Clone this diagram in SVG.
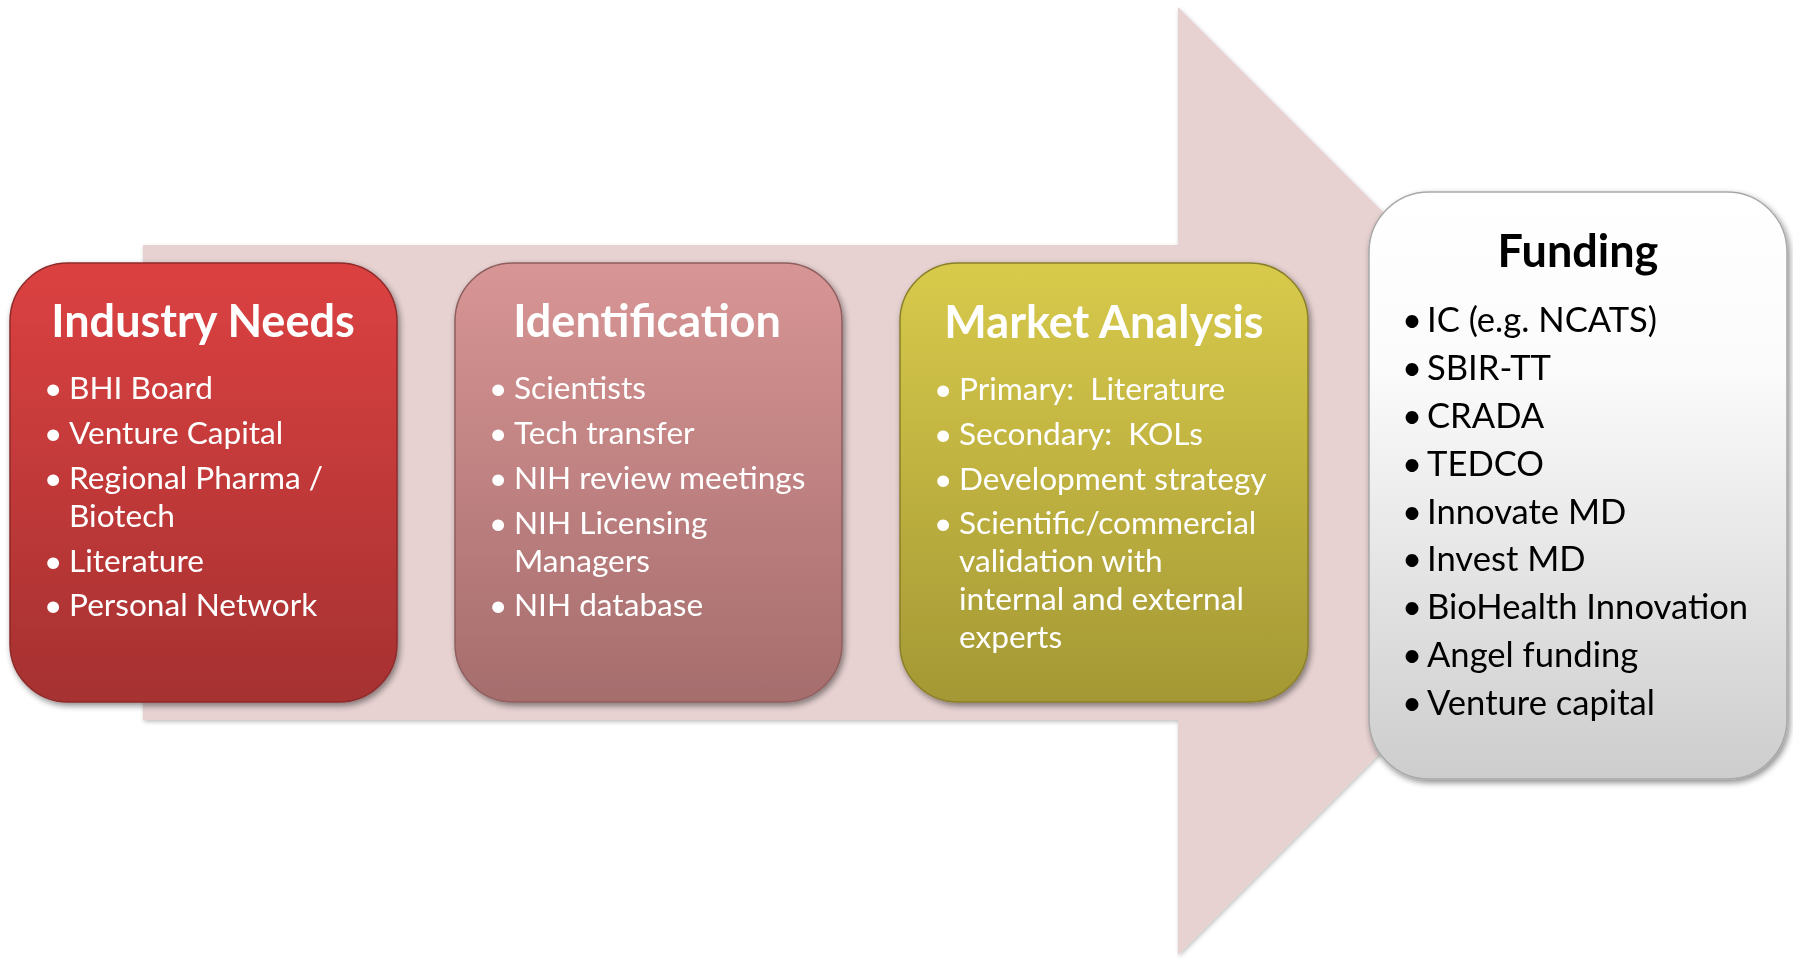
<svg xmlns="http://www.w3.org/2000/svg" width="1793" height="960" viewBox="0 0 1793 960">
<defs>
<style>
.t{font-family:Lato,"Liberation Sans",sans-serif;font-weight:bold;font-size:45px;text-anchor:middle}
.i{font-family:Lato,"Liberation Sans",sans-serif;font-size:31.6px;white-space:pre}
.f{font-family:Lato,"Liberation Sans",sans-serif;font-size:34.6px;fill:#000}
.w{fill:#fff}
.k{fill:#000}
</style>
<filter id="sh" x="-10%" y="-10%" width="120%" height="120%">
<feGaussianBlur in="SourceAlpha" stdDeviation="3"/>
<feOffset dx="2" dy="3" result="b"/>
<feComponentTransfer><feFuncA type="linear" slope="0.45"/></feComponentTransfer>
<feMerge><feMergeNode/><feMergeNode in="SourceGraphic"/></feMerge>
</filter>
<filter id="ash" x="-5%" y="-5%" width="110%" height="110%">
<feGaussianBlur in="SourceAlpha" stdDeviation="2"/>
<feOffset dx="1" dy="2" result="b"/>
<feComponentTransfer><feFuncA type="linear" slope="0.25"/></feComponentTransfer>
<feMerge><feMergeNode/><feMergeNode in="SourceGraphic"/></feMerge>
</filter>
<linearGradient id="gR" x1="0" y1="0" x2="0" y2="1"><stop offset="0" stop-color="#DC4141"/><stop offset="1" stop-color="#A63131"/></linearGradient>
<linearGradient id="gP" x1="0" y1="0" x2="0" y2="1"><stop offset="0" stop-color="#D89595"/><stop offset="1" stop-color="#A66D6D"/></linearGradient>
<linearGradient id="gY" x1="0" y1="0" x2="0" y2="1"><stop offset="0" stop-color="#D8CA4B"/><stop offset="1" stop-color="#A49835"/></linearGradient>
<linearGradient id="gW" x1="0" y1="0" x2="0" y2="1"><stop offset="0" stop-color="#FFFFFF"/><stop offset="0.3" stop-color="#FBFBFB"/><stop offset="1" stop-color="#CDCDCD"/></linearGradient>
</defs>

<g id="arrow" filter="url(#ash)">
<polygon points="143,245 1178,245 1178,7 1652,481 1178,955 1178,720 143,720" fill="#E7D1D1"/>
</g>

<g id="industry-needs" filter="url(#sh)">
<rect x="10" y="263" width="387" height="439" rx="58" fill="url(#gR)" stroke="#8E2A2A" stroke-width="1.5"/>
<text class="t w" x="203" y="337">Industry Needs</text>
<g class="i w">
<text x="44" y="399">•</text><text x="69" y="399">BHI Board</text>
<text x="44" y="444">•</text><text x="69" y="444">Venture Capital</text>
<text x="44" y="489">•</text><text x="69" y="489">Regional Pharma /</text>
<text x="69" y="527">Biotech</text>
<text x="44" y="572">•</text><text x="69" y="572">Literature</text>
<text x="44" y="616">•</text><text x="69" y="616">Personal Network</text>
</g>
</g>

<g id="identification" filter="url(#sh)">
<rect x="455" y="263" width="387" height="439" rx="58" fill="url(#gP)" stroke="#8F5E5E" stroke-width="1.5"/>
<text class="t w" x="647" y="337">Identification</text>
<g class="i w">
<text x="489" y="399">•</text><text x="514" y="399">Scientists</text>
<text x="489" y="444">•</text><text x="514" y="444">Tech transfer</text>
<text x="489" y="489">•</text><text x="514" y="489">NIH review meetings</text>
<text x="489" y="534">•</text><text x="514" y="534">NIH Licensing</text>
<text x="514" y="572">Managers</text>
<text x="489" y="616">•</text><text x="514" y="616">NIH database</text>
</g>
</g>

<g id="market-analysis" filter="url(#sh)">
<rect x="900" y="263" width="408" height="439" rx="58" fill="url(#gY)" stroke="#8A7F2A" stroke-width="1.5"/>
<text class="t w" x="1104" y="338">Market Analysis</text>
<g class="i w">
<text x="934" y="400">•</text><text x="959" y="400" xml:space="preserve">Primary:  Literature</text>
<text x="934" y="445">•</text><text x="959" y="445" xml:space="preserve">Secondary:  KOLs</text>
<text x="934" y="490">•</text><text x="959" y="490">Development strategy</text>
<text x="934" y="534">•</text><text x="959" y="534">Scientific/commercial</text>
<text x="959" y="572">validation with</text>
<text x="959" y="610">internal and external</text>
<text x="959" y="648">experts</text>
</g>
</g>

<g id="funding" filter="url(#sh)">
<rect x="1369" y="192" width="418" height="587" rx="60" fill="url(#gW)" stroke="#A8A8A8" stroke-width="1.5"/>
<text class="t k" x="1578" y="267">Funding</text>
<g class="f">
<text x="1402" y="332">•</text><text x="1427" y="332">IC (e.g. NCATS)</text>
<text x="1402" y="380">•</text><text x="1427" y="380">SBIR-TT</text>
<text x="1402" y="428">•</text><text x="1427" y="428">CRADA</text>
<text x="1402" y="476">•</text><text x="1427" y="476">TEDCO</text>
<text x="1402" y="524">•</text><text x="1427" y="524">Innovate MD</text>
<text x="1402" y="571">•</text><text x="1427" y="571">Invest MD</text>
<text x="1402" y="619">•</text><text x="1427" y="619">BioHealth Innovation</text>
<text x="1402" y="667">•</text><text x="1427" y="667">Angel funding</text>
<text x="1402" y="715">•</text><text x="1427" y="715">Venture capital</text>
</g>
</g>

<g id="connectors"/>
</svg>
